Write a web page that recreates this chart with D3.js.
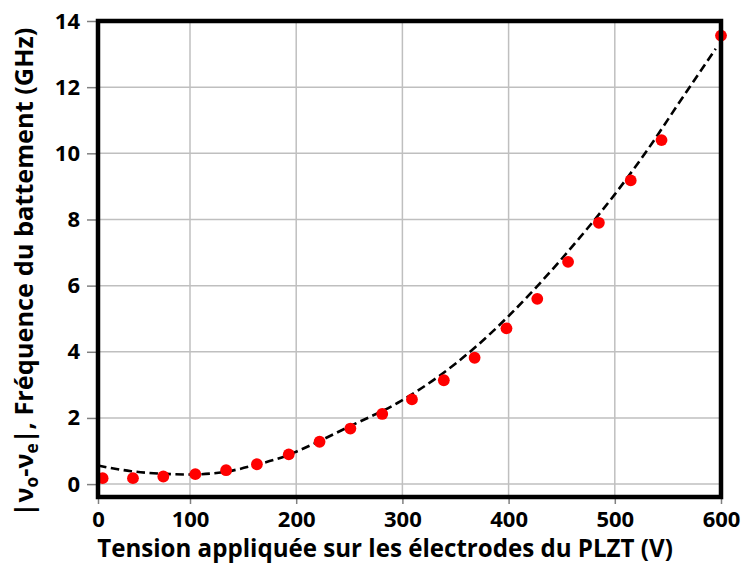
<!DOCTYPE html>
<html>
<head>
<meta charset="utf-8">
<script src="https://cdn.jsdelivr.net/npm/d3@7"></script>
<style>
  html, body { margin: 0; padding: 0; background: #fff; }
  svg { display: block; }
  text { font-family: "Open Sans", Lato, sans-serif; font-weight: 700; fill: #000; }
</style>
</head>
<body>
<svg id="chart" width="742" height="565"></svg>
<script>
// ---- data ----
const voltage = [5, 38, 71, 105, 134, 163, 193, 222, 251, 281, 309, 339, 368, 398, 427, 456, 485, 515, 544, 600];
const beatFreq = [0.18, 0.18, 0.23, 0.30, 0.42, 0.60, 0.90, 1.28, 1.68, 2.12, 2.56, 3.14, 3.82, 4.71, 5.60, 6.72, 7.90, 9.18, 10.40, 13.56];
const fitVoltage = [0, 36, 71, 100, 131, 163, 191, 200, 250, 298, 368, 400, 426, 467, 500, 530, 561, 595];
const fitFreq = [0.56, 0.39, 0.31, 0.29, 0.36, 0.59, 0.86, 0.98, 1.74, 2.50, 4.12, 5.08, 5.95, 7.45, 8.76, 10.07, 11.55, 13.16];
const xTicks = [0, 100, 200, 300, 400, 500, 600];
const yTicks = [0, 2, 4, 6, 8, 10, 12, 14];
const xTitle = "Tension appliquée sur les électrodes du PLZT (V)";

// ---- layout ----
const svg = d3.select("#chart");
const mLeft = 98, mRight = 721, mTop = 21, mBottom = 497;

const x = d3.scaleLinear().domain([0, 100, 600]).range([mLeft, 190, mRight]);
const y = d3.scaleLinear().domain([-0.39, 14]).range([mBottom, mTop]);

// gridlines
const grid = svg.append("g");
grid.selectAll("line.v").data(xTicks.filter(d => d > 0 && d < 600)).join("line")
  .attr("x1", d => x(d)).attr("x2", d => x(d))
  .attr("y1", mTop).attr("y2", mBottom)
  .attr("stroke", "#bfbfbf").attr("stroke-width", 1.5);
grid.selectAll("line.h").data(yTicks.filter(d => d < 14)).join("line")
  .attr("x1", mLeft).attr("x2", mRight)
  .attr("y1", d => y(d)).attr("y2", d => y(d))
  .attr("stroke", "#bfbfbf").attr("stroke-width", 1.5);

// axes
const yAxis = svg.append("g").attr("transform", `translate(${mLeft - 2},0)`)
  .call(d3.axisLeft(y).tickValues(yTicks).tickSize(9).tickPadding(7).tickFormat(d3.format("d")));
yAxis.select(".domain").remove();
yAxis.selectAll(".tick line").attr("stroke", "#808080").attr("stroke-width", 1.5);
yAxis.selectAll(".tick text").attr("font-size", 22).attr("font-family", "Open Sans").attr("font-weight", 700).attr("fill", "#000");

const xAxis = svg.append("g").attr("transform", `translate(0,${mBottom + 2})`)
  .call(d3.axisBottom(x).tickValues(xTicks).tickSize(5).tickPadding(7).tickFormat(d3.format("d")));
xAxis.select(".domain").remove();
xAxis.selectAll(".tick line").attr("stroke", "#808080").attr("stroke-width", 1.5);
xAxis.selectAll(".tick text").attr("font-size", 22).attr("font-family", "Open Sans").attr("font-weight", 700).attr("fill", "#000");

// fit curve
const line = d3.line().x((d, i) => x(fitVoltage[i])).y((d, i) => y(fitFreq[i])).curve(d3.curveMonotoneX);
svg.append("path").datum(fitFreq).attr("d", line)
  .attr("fill", "none").attr("stroke", "#000").attr("stroke-width", 2.6)
  .attr("stroke-dasharray", "8.5,4.5");

// points
svg.append("g").selectAll("circle").data(beatFreq).join("circle")
  .attr("cx", (d, i) => x(voltage[i])).attr("cy", d => y(d)).attr("r", 5.9)
  .attr("fill", "#ff0000");

// frame
svg.append("rect").attr("x", mLeft).attr("y", mTop).attr("width", mRight - mLeft).attr("height", mBottom - mTop)
  .attr("fill", "none").attr("stroke", "#000").attr("stroke-width", 4.5);

// titles
const xt = svg.append("text").attr("x", 385).attr("y", 557).attr("text-anchor", "middle")
  .attr("font-size", 22).text(xTitle);
// fit to the reference width
const xw = xt.node().getComputedTextLength();
xt.attr("font-size", 22 * 576 / xw);

const yt = svg.append("text").attr("transform", "translate(33,272) rotate(-90)")
  .attr("text-anchor", "middle").attr("font-size", 22);
yt.append("tspan").text("|ν");
yt.append("tspan").attr("font-size", "0.68em").attr("dy", 5).text("o");
yt.append("tspan").attr("dy", -5).text("-ν");
yt.append("tspan").attr("font-size", "0.68em").attr("dy", 5).text("e");
yt.append("tspan").attr("dy", -5).text("|, Fréquence du battement (GHz)");
const yw = yt.node().getComputedTextLength();
yt.attr("font-size", 22 * 489 / yw);
</script>
</body>
</html>
